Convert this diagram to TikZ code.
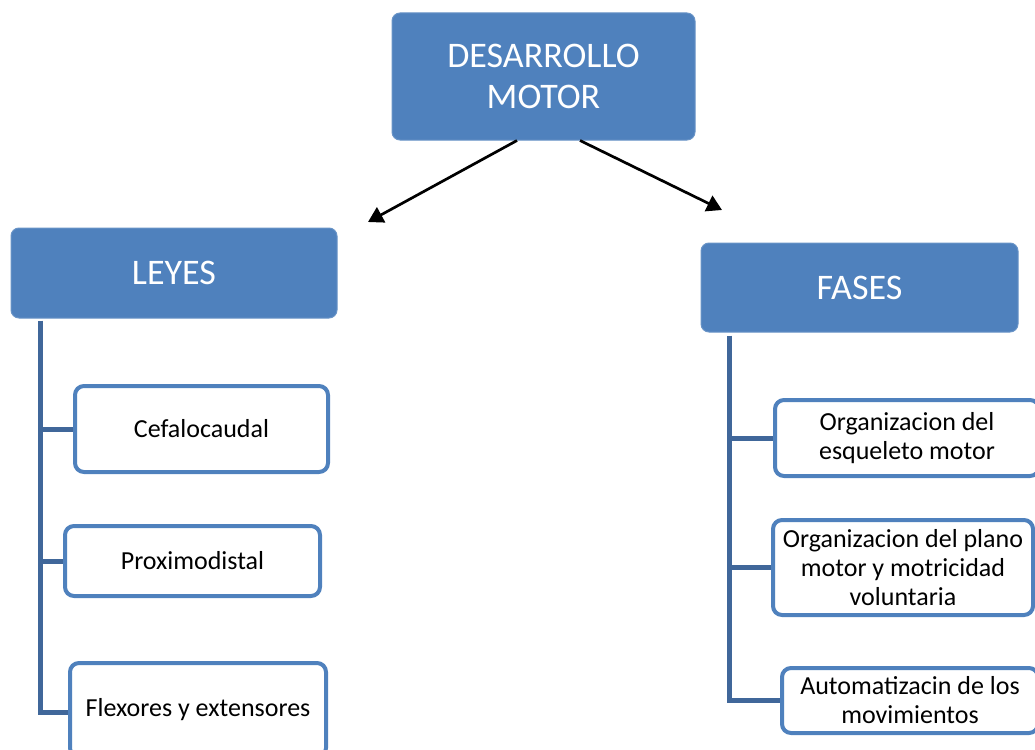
\documentclass[tikz,border=0pt]{standalone}
\usepackage{fontspec}
\setmainfont{Carlito}
\usetikzlibrary{arrows.meta,positioning}
\definecolor{boxblue}{HTML}{4F81BD}
\definecolor{trunkblue}{HTML}{40679A}
\tikzset{
  headbox/.style={draw=boxblue!85!white, line width=1pt, fill=boxblue, rounded corners=8pt,
    text=white, align=center, inner sep=0pt,
    font=\fontsize{36}{41}\selectfont},
  itembox/.style={draw=boxblue, line width=4pt, fill=white, rounded corners=9pt,
    text=black, align=center, inner sep=0pt,
    font=\fontsize{26}{29}\selectfont},
  trunk/.style={draw=trunkblue, line width=5pt},
  link/.style={draw=black, line width=2.7pt, -{Triangle[length=15pt,width=17pt]}}
}
\begin{document}
\begin{tikzpicture}[x=1pt,y=-1pt]
\useasboundingbox (0,0) rectangle (1035,749);
\begin{scope}
\clip (0,0) rectangle (1035,749);
% main heading and its two groups
\node[headbox, minimum width=303pt, minimum height=127pt] (top) at (543.5,76.5) {DESARROLLO\\MOTOR};
\node[headbox, minimum width=326pt, minimum height=90pt] (leyes) at (174,273) {LEYES};
\node[headbox, minimum width=317pt, minimum height=89pt] (fases) at (859.5,287.5) {FASES};

% items of the left group
\node[itembox, minimum width=253pt, minimum height=86pt] (cefa) at (201.5,429) {Cefalocaudal};
\node[itembox, minimum width=255pt, minimum height=70pt] (prox) at (192.5,561) {Proximodistal};
\node[itembox, minimum width=256pt, minimum height=94pt] (flex) at (198,710) {Flexores y extensores};

% items of the right group
\node[itembox, minimum width=264pt, minimum height=76pt] (esq) at (907,438) {Organizacion del\\esqueleto motor};
\node[itembox, minimum width=260pt, minimum height=95pt] (plano) at (903,567.5) {Organizacion del plano\\motor y motricidad\\voluntaria};
\node[itembox, minimum width=256pt, minimum height=65pt] (auto) at (910,700.5) {Automatizacin de los\\movimientos};

% tree lines of the left group
\coordinate (ltop) at ([xshift=30pt,yshift=-2pt]leyes.south west);
\draw[trunk] (ltop) |- ([yshift=-2pt]flex.west);
\draw[trunk] (ltop |- cefa.west) -- (cefa.west);
\draw[trunk] (ltop |- prox.west) -- (prox.west);

% tree lines of the right group
\coordinate (rtop) at ([xshift=29pt,yshift=-3pt]fases.south west);
\draw[trunk] (rtop) |- (auto.west);
\draw[trunk] (rtop |- esq.west) -- (esq.west);
\draw[trunk] (rtop |- plano.west) -- (plano.west);

% arrows from the heading
\coordinate (lend) at (368,222);
\coordinate (rend) at (722,210);
\draw[link] ([xshift=-26.5pt]top.south) -- (lend);
\draw[link] ([xshift=36.5pt]top.south) -- (rend);
\end{scope}
\end{tikzpicture}
\end{document}
